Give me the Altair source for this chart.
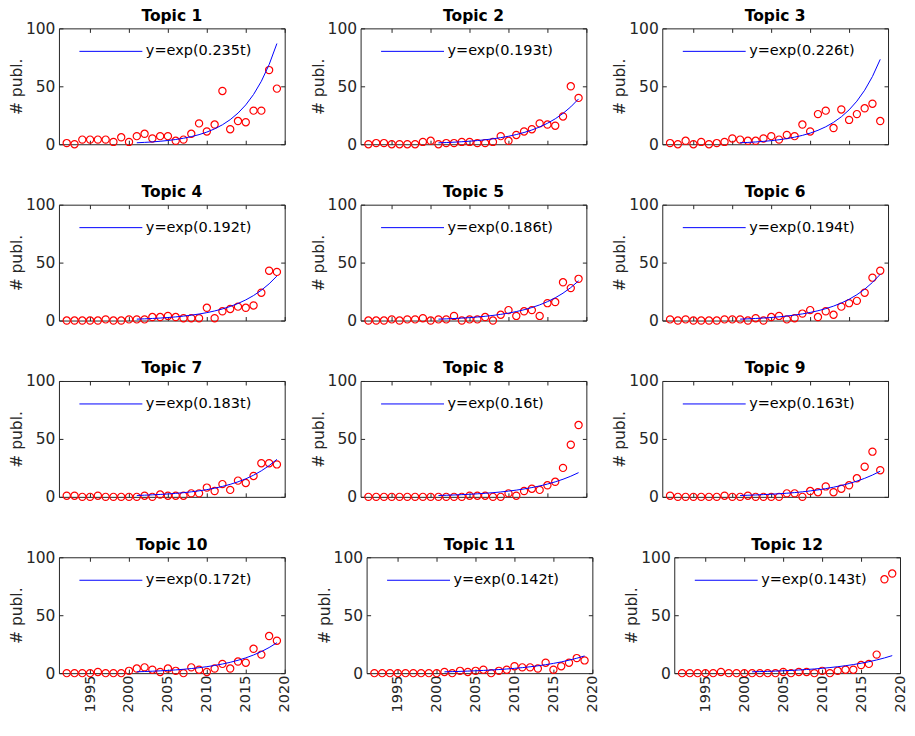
import altair as alt
import pandas as pd

YEARS = [1992, 1993, 1994, 1995, 1996, 1997, 1998, 1999, 2000, 2001,
         2002, 2003, 2004, 2005, 2006, 2007, 2008, 2009, 2010, 2011,
         2012, 2013, 2014, 2015, 2016, 2017, 2018, 2019]
FIT_YEARS = [2001, 2002, 2003, 2004, 2005, 2006, 2007, 2008, 2009, 2010,
             2011, 2012, 2013, 2014, 2015, 2016, 2017, 2018, 2019]
TOPIC_NAMES = ["Topic 1", "Topic 2", "Topic 3", "Topic 4", "Topic 5", "Topic 6",
               "Topic 7", "Topic 8", "Topic 9", "Topic 10", "Topic 11", "Topic 12"]
RATES = [0.235, 0.193, 0.226, 0.192, 0.186, 0.194,
         0.183, 0.16, 0.163, 0.172, 0.142, 0.143]
RATE_TEXT = ["0.235", "0.193", "0.226", "0.192", "0.186", "0.194",
             "0.183", "0.16", "0.163", "0.172", "0.142", "0.143"]

T1 = [1, 0, 4, 4, 4, 4, 2, 6, 2, 7, 9, 5, 7, 7, 3, 4, 9, 18, 11, 17, 46, 13, 20, 19, 29, 29, 64, 48]
T2 = [0, 1, 1, 0, 0, 0, 0, 2, 3, 0, 1, 1, 2, 2, 1, 1, 2, 7, 3, 8, 11, 13, 18, 17, 16, 24, 50, 40]
T3 = [1, 0, 3, 0, 2, 0, 1, 2, 5, 4, 3, 3, 5, 7, 4, 8, 7, 17, 11, 26, 29, 14, 30, 21, 26, 31, 35, 20]
T4 = [0, 0, 0, 0, 0, 1, 0, 0, 1, 1, 1, 3, 3, 4, 3, 2, 2, 2, 11, 2, 8, 10, 12, 11, 13, 24, 43, 42]
T5 = [0, 0, 0, 1, 0, 1, 1, 2, 0, 1, 1, 4, 0, 1, 1, 3, 0, 5, 9, 4, 8, 9, 4, 15, 16, 33, 28, 36]
T6 = [1, 0, 1, 0, 0, 0, 0, 1, 1, 1, 0, 2, 0, 3, 4, 1, 2, 6, 9, 3, 8, 5, 12, 15, 17, 24, 37, 43]
T7 = [1, 1, 0, 0, 1, 0, 0, 0, 0, 0, 1, 0, 2, 1, 1, 1, 3, 3, 8, 5, 11, 6, 14, 12, 18, 29, 29, 28]
T8 = [0, 0, 0, 0, 0, 0, 0, 0, 0, 0, 0, 0, 0, 1, 1, 1, 0, 0, 3, 1, 5, 7, 6, 10, 13, 25, 45, 62]
T9 = [1, 0, 0, 0, 0, 0, 0, 1, 0, 0, 1, 0, 0, 0, 0, 3, 3, 0, 5, 4, 9, 4, 7, 10, 16, 26, 39, 23]
T10 = [0, 0, 0, 0, 1, 0, 0, 0, 2, 4, 5, 3, 1, 4, 2, 0, 5, 3, 1, 4, 8, 4, 10, 9, 21, 16, 32, 28]
T11 = [0, 0, 0, 0, 0, 0, 0, 0, 0, 1, 0, 2, 1, 2, 3, 0, 2, 3, 6, 5, 5, 4, 9, 3, 6, 9, 13, 11]
T12 = [0, 0, 0, 0, 0, 1, 0, 0, 0, 0, 0, 0, 0, 1, 0, 1, 1, 0, 2, 0, 2, 3, 3, 7, 8, 16, 81, 86]
COUNTS = [T1, T2, T3, T4, T5, T6, T7, T8, T9, T10, T11, T12]

X_TICKS = [1995, 2000, 2005, 2010, 2015, 2020]
Y_TICKS = [0, 50, 100]

FONT = "DejaVu Sans"
INK = "#262626"
FS = 15.5


def panel(i, bottom):
    pts = pd.DataFrame({"year": YEARS, "publ": COUNTS[i]})
    label = "y=exp(" + RATE_TEXT[i] + "t)"
    fit = pd.DataFrame({"year": FIT_YEARS, "series": [label] * len(FIT_YEARS)})
    k = RATES[i]
    xscale = alt.Scale(domain=[1991, 2020], nice=False, zero=False)
    yscale = alt.Scale(domain=[0, 100], nice=False, zero=False)
    tick_grid = dict(grid=True, gridDash=[4, 1000], gridColor=INK, gridOpacity=1,
                     gridWidth=1, ticks=False, domain=False, labelFlush=False,
                     labelOverlap=False, minExtent=0)
    points = alt.Chart(pts).mark_point(
        shape="circle", filled=False, color="#ff0000", size=52,
        strokeWidth=1.2, opacity=1
    ).encode(
        x=alt.X("year:Q", scale=xscale,
                axis=alt.Axis(orient="bottom", values=X_TICKS, labels=bottom,
                              labelAngle=270, labelPadding=2, labelFontSize=14.5,
                              format="d", title=None, **tick_grid)),
        y=alt.Y("publ:Q", scale=yscale,
                axis=alt.Axis(orient="left", values=Y_TICKS, labelPadding=4,
                              labelFontSize=FS, title="# publ.", titleFontSize=FS,
                              titleFontWeight="normal", titlePadding=1, **tick_grid)),
    )
    line = alt.Chart(fit).transform_calculate(
        fitted="exp(" + str(k) + " * (datum.year - 2000))"
    ).mark_line(strokeWidth=1).encode(
        x=alt.X("year:Q", scale=xscale,
                axis=alt.Axis(orient="top", values=X_TICKS, labels=False,
                              title=None, **tick_grid)),
        y=alt.Y("fitted:Q", scale=yscale,
                axis=alt.Axis(orient="right", values=Y_TICKS, labels=False,
                              title=None, **tick_grid)),
        color=alt.Color("series:N",
                        scale=alt.Scale(domain=[label], range=["#0000ff"]),
                        legend=alt.Legend(orient="none", legendX=20, legendY=15,
                                          title=None, symbolType="stroke",
                                          symbolSize=3969, symbolStrokeWidth=1,
                                          clipHeight=16,
                                          labelFontSize=14.5, labelOffset=3,
                                          padding=0, rowPadding=0)),
    )
    return alt.layer(points, line).resolve_axis(
        x="independent", y="independent"
    ).properties(
        width=226, height=116,
        title=alt.TitleParams(TOPIC_NAMES[i], fontSize=FS, fontWeight="bold",
                              offset=-3, anchor="middle", frame="group"),
    )


rows = []
for r in range(4):
    row = alt.hconcat(*[panel(3 * r + c, r == 3) for c in range(3)], spacing=24)
    row = row.resolve_scale(color="independent").resolve_legend(color="independent")
    rows.append(row)

chart = alt.vconcat(*rows, spacing=31.5).resolve_scale(
    color="independent"
).resolve_legend(
    color="independent"
).properties(
    padding={"left": 0, "top": 0, "right": 0, "bottom": 0}
).configure(
    font=FONT
).configure_view(
    stroke=INK, strokeWidth=1
).configure_axis(
    labelColor=INK, titleColor=INK, labelFont=FONT, titleFont=FONT
).configure_legend(
    labelFont=FONT, labelColor="#000000"
).configure_title(
    font=FONT, color="#000000"
)

chart.save("out.html", embed_options={"renderer": "svg", "actions": False})
